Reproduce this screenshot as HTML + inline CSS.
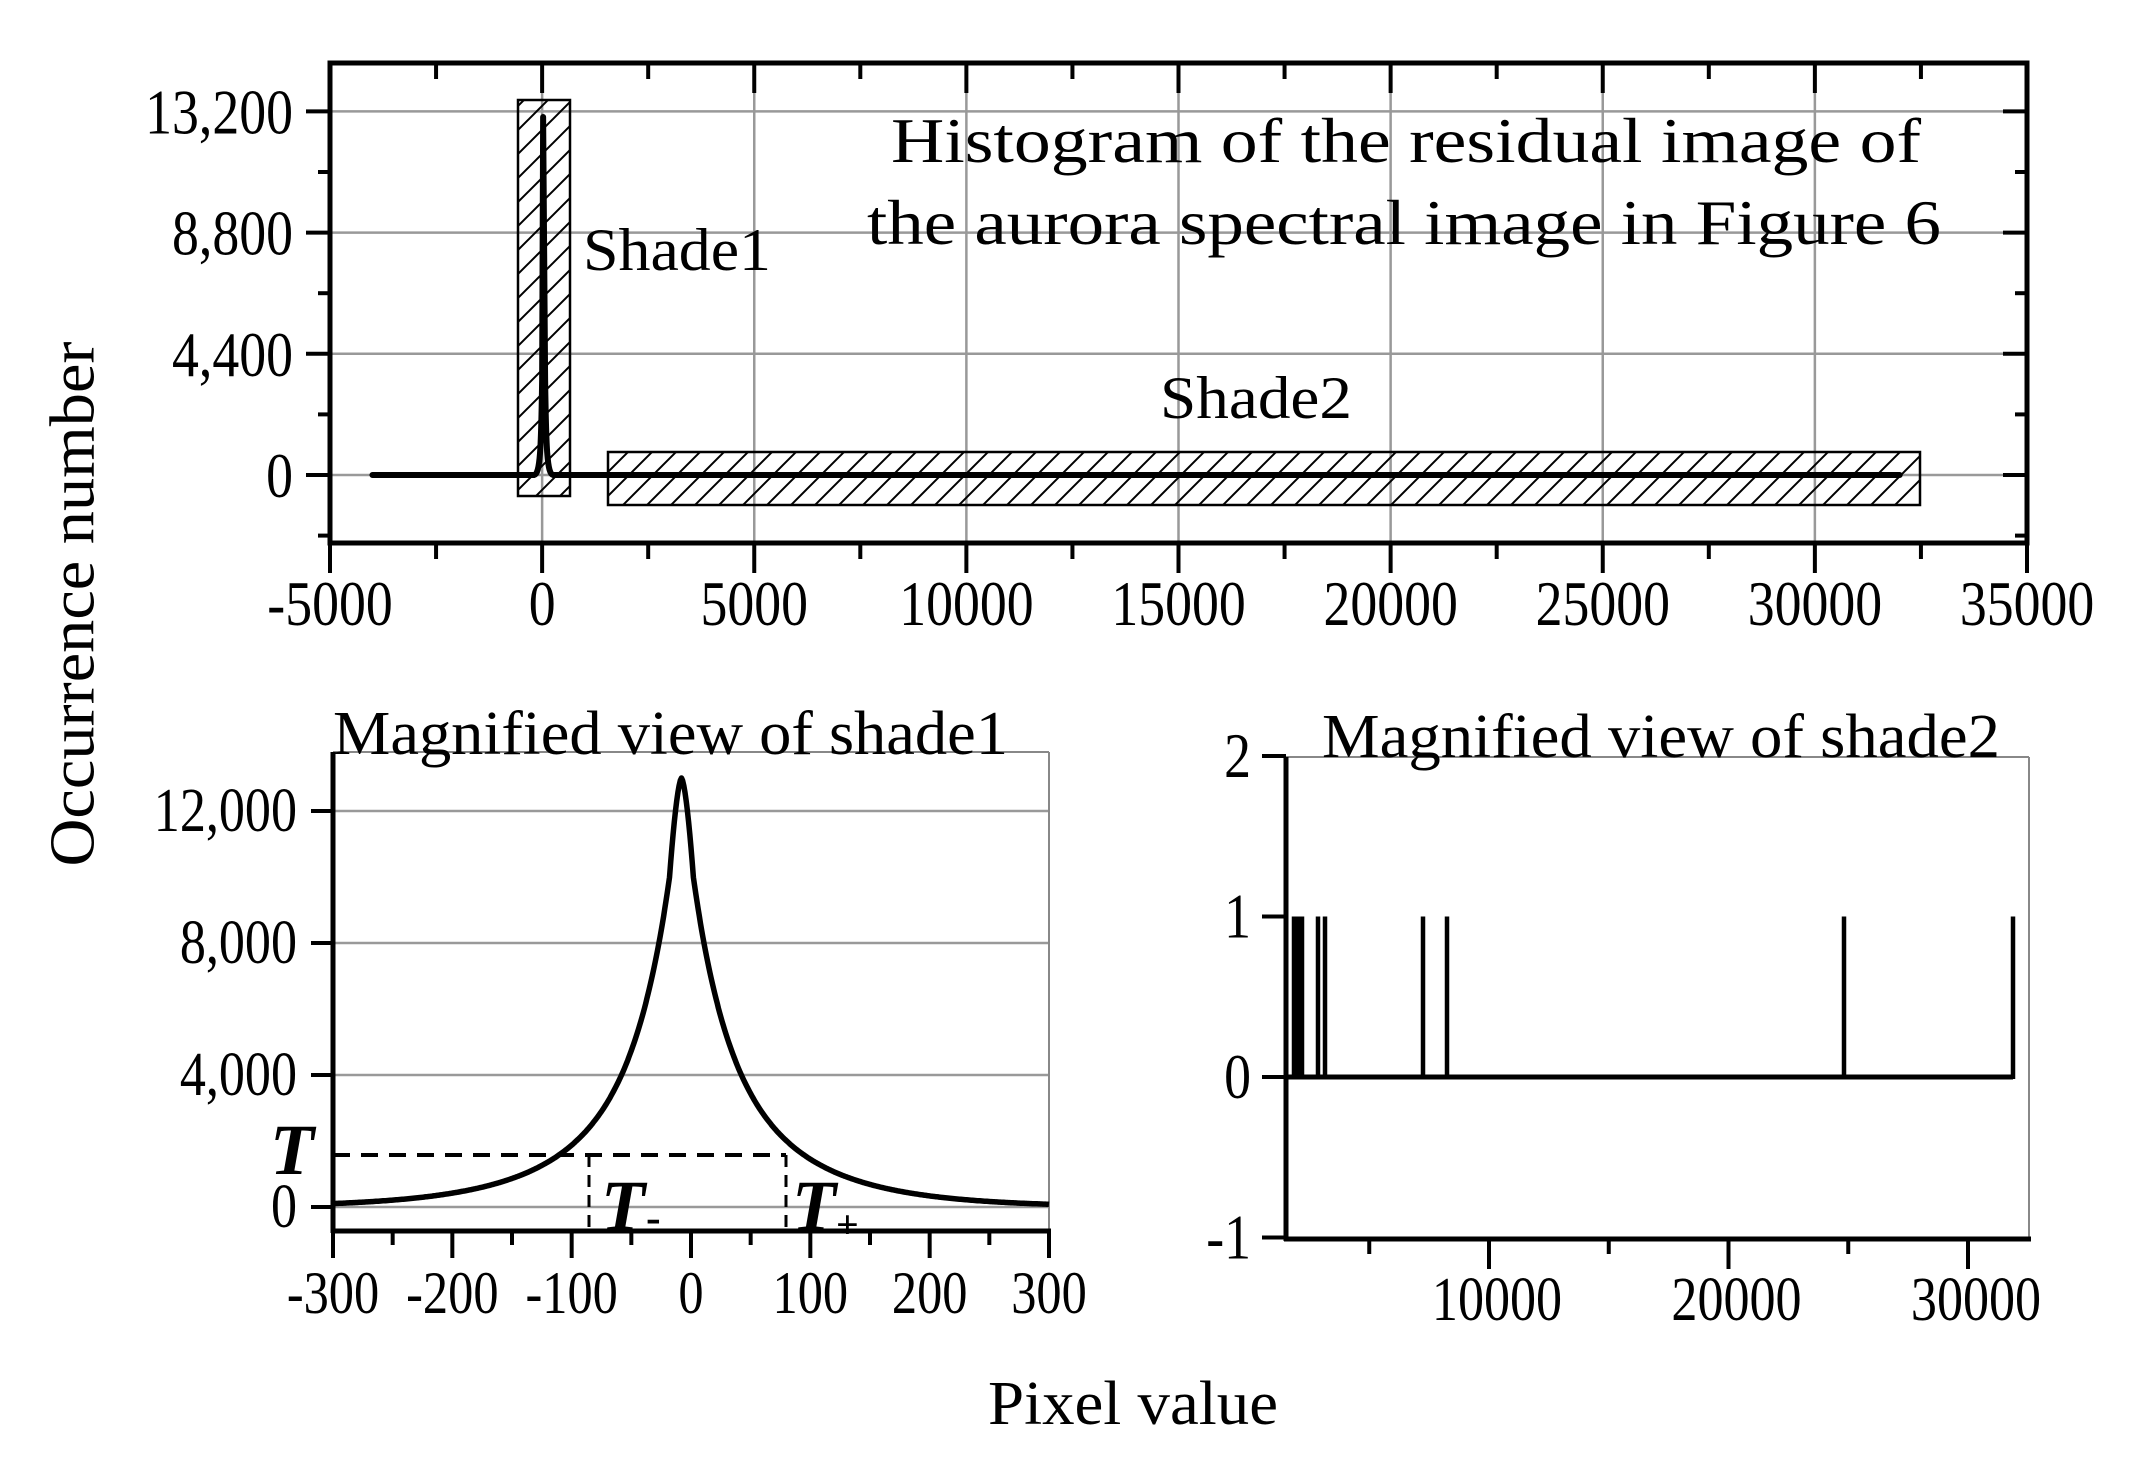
<!DOCTYPE html>
<html><head><meta charset="utf-8"><style>
html,body{margin:0;padding:0;background:#fff;}
svg{display:block;}
text{font-family:"Liberation Serif",serif;fill:#000;}
</style></head><body>
<svg id="s" width="2129" height="1463" viewBox="0 0 2129 1463" xmlns="http://www.w3.org/2000/svg">
<defs>
<pattern id="h" width="24" height="24" patternUnits="userSpaceOnUse">
<line x1="-2" y1="26" x2="26" y2="-2" stroke="#000" stroke-width="2"/>
<line x1="-14" y1="14" x2="14" y2="-14" stroke="#000" stroke-width="2"/>
<line x1="10" y1="38" x2="38" y2="10" stroke="#000" stroke-width="2"/>
</pattern>
</defs>
<g id="top"></g>
<g id="bl"></g>
<g id="br"></g>
<text x="79" y="604" font-size="64" text-anchor="middle" transform="rotate(-90 79 604)" dominant-baseline="middle" textLength="525" lengthAdjust="spacingAndGlyphs">Occurrence number</text>
<text x="1133" y="1424" font-size="62" text-anchor="middle" textLength="290" lengthAdjust="spacingAndGlyphs">Pixel value</text>
</svg>
<script>
const NS="http://www.w3.org/2000/svg";
function el(g,tag,attrs,txt){const e=document.createElementNS(NS,tag);for(const k in attrs)e.setAttribute(k,attrs[k]);if(txt!==undefined)e.textContent=txt;g.appendChild(e);return e;}
function tx(g,x,y,size,anchor,str,sx,extra){const a={x:0,y:0,'font-size':size,'text-anchor':anchor,transform:`translate(${x},${y}) scale(${sx},1)`};if(extra)Object.assign(a,extra);return el(g,'text',a,str);}
// ---------- TOP ----------
(function(){
const g=document.getElementById('top');
const L=330,R=2027,T=63,B=543;
const X=v=>L+(v+5000)*(R-L)/40000, Y=c=>475-c*121.2/4400;
for(let v=0;v<=30000;v+=5000) el(g,'line',{x1:X(v),x2:X(v),y1:T,y2:B,stroke:'#999','stroke-width':2.5});
for(const c of [0,4400,8800,13200]) el(g,'line',{x1:L,x2:R,y1:Y(c),y2:Y(c),stroke:'#999','stroke-width':2.5});
el(g,'rect',{x:518,y:100,width:52,height:396,fill:'url(#h)',stroke:'#000','stroke-width':2.5});
el(g,'rect',{x:608,y:452,width:1312,height:53,fill:'url(#h)',stroke:'#000','stroke-width':2.5});
const x0=X(0);
el(g,'path',{d:`M${X(-4000)},475 L${x0-8},475 C${x0-2},474 ${x0-1},450 ${x0},380 L${x0+1},117 L${x0+3},380 C${x0+4},450 ${x0+5},474 ${x0+11},475 L${X(32000)},475`,fill:'none',stroke:'#000','stroke-width':6,'stroke-linecap':'round','stroke-linejoin':'round'});
el(g,'rect',{x:L,y:T,width:R-L,height:B-T,fill:'none',stroke:'#000','stroke-width':5});
for(let v=-5000;v<=35000;v+=2500){const maj=v%5000===0;const x=X(v);
 el(g,'line',{x1:x,x2:x,y1:B,y2:B+(maj?30:16),stroke:'#000','stroke-width':4});
 el(g,'line',{x1:x,x2:x,y1:T,y2:T+(maj?30:16),stroke:'#000','stroke-width':4});
 if(maj) tx(g,x,625,64,'middle',String(v),0.84);}
for(let c=-2200;c<=13200;c+=2200){const maj=c%4400===0;const y=Y(c);
 el(g,'line',{x1:L-(maj?24:12),x2:L,y1:y,y2:y,stroke:'#000','stroke-width':4});
 el(g,'line',{x1:R-(maj?24:12),x2:R,y1:y,y2:y,stroke:'#000','stroke-width':4});
 if(maj) tx(g,293,y+22,64,'end',c.toLocaleString('en-US'),0.84);}
el(g,'text',{x:583,y:270,'font-size':60,textLength:188,lengthAdjust:'spacingAndGlyphs'},'Shade1');
el(g,'text',{x:1160,y:418,'font-size':60,textLength:192,lengthAdjust:'spacingAndGlyphs'},'Shade2');
el(g,'text',{x:1406,y:162,'font-size':64,'text-anchor':'middle',textLength:1030,lengthAdjust:'spacingAndGlyphs'},'Histogram of the residual image of');
el(g,'text',{x:1404,y:244,'font-size':64,'text-anchor':'middle',textLength:1074,lengthAdjust:'spacingAndGlyphs'},'the aurora spectral image in Figure 6');
})();
// ---------- BOTTOM LEFT ----------
(function(){
const g=document.getElementById('bl');
const L=333,R=1049,T=752,B=1231;
const X=v=>691+v*(R-L)/600, Y=c=>1207-c*132/4000;
for(const c of [0,4000,8000,12000]) el(g,'line',{x1:L,x2:R,y1:Y(c),y2:Y(c),stroke:'#999','stroke-width':2.5});
el(g,'line',{x1:L,x2:R,y1:T,y2:T,stroke:'#888','stroke-width':2});
el(g,'line',{x1:R,x2:R,y1:T,y2:B,stroke:'#888','stroke-width':2});
const F=dd=>7000*Math.exp(-dd/26)+6000*Math.exp(-dd/72);
const f10=F(10);
let d='';
for(let v=-300;v<=300;v+=1){const dd=Math.abs(v+8);let f=F(dd);
 if(dd<10) f=13000-(13000-f10)*Math.pow(dd/10,1.6);
 d+=(v===-300?'M':'L')+X(v).toFixed(1)+','+Y(f).toFixed(1)+' ';}
el(g,'path',{d:d,fill:'none',stroke:'#000','stroke-width':5.5,'stroke-linejoin':'round'});
el(g,'line',{x1:L,x2:786,y1:1155,y2:1155,stroke:'#000','stroke-width':4,'stroke-dasharray':'17,11'});
el(g,'line',{x1:589,x2:589,y1:1155,y2:B,stroke:'#000','stroke-width':3,'stroke-dasharray':'12,8'});
el(g,'line',{x1:786,x2:786,y1:1155,y2:B,stroke:'#000','stroke-width':3,'stroke-dasharray':'12,8'});
el(g,'line',{x1:L,x2:L,y1:T,y2:B+2,stroke:'#000','stroke-width':5});
el(g,'line',{x1:L-2,x2:R+2,y1:B,y2:B,stroke:'#000','stroke-width':5});
for(let v=-300;v<=300;v+=50){const maj=v%100===0;const x=X(v);
 el(g,'line',{x1:x,x2:x,y1:B,y2:B+(maj?27:14),stroke:'#000','stroke-width':4});
 if(maj) tx(g,x,1313,60,'middle',String(v),0.84);}
for(const c of [0,4000,8000,12000]){const y=Y(c);
 el(g,'line',{x1:L-22,x2:L,y1:y,y2:y,stroke:'#000','stroke-width':4});
 tx(g,297,y+20,62,'end',c.toLocaleString('en-US'),0.84);}
el(g,'text',{x:270,y:1174,'font-size':72,'font-weight':'bold','font-style':'italic'},'T');
el(g,'text',{x:601,y:1230,'font-size':72,'font-weight':'bold','font-style':'italic'},'T');
el(g,'text',{x:646,y:1232,'font-size':44,'font-weight':'bold'},'-');
el(g,'text',{x:792,y:1230,'font-size':72,'font-weight':'bold','font-style':'italic'},'T');
el(g,'text',{x:836,y:1238,'font-size':40,'font-weight':'bold'},'+');
el(g,'text',{x:333,y:754,'font-size':62,textLength:675,lengthAdjust:'spacingAndGlyphs'},'Magnified view of shade1');
})();
// ---------- BOTTOM RIGHT ----------
(function(){
const g=document.getElementById('br');
const L=1286,R=2029,T=757,B=1239;
const X=v=>1489+(v-10000)*239.5/10000, Y=c=>1077-c*160.5;
el(g,'line',{x1:L,x2:R,y1:T,y2:T,stroke:'#888','stroke-width':2});
el(g,'line',{x1:R,x2:R,y1:T,y2:B,stroke:'#888','stroke-width':2});
el(g,'line',{x1:L,x2:2013,y1:Y(0),y2:Y(0),stroke:'#000','stroke-width':5});
for(const x of [1294,1298,1302,1318,1325,1423,1447,1844,2013]) el(g,'line',{x1:x,x2:x,y1:Y(0)+2,y2:Y(1),stroke:'#000','stroke-width':4.5});
el(g,'line',{x1:L,x2:L,y1:T,y2:B+2,stroke:'#000','stroke-width':5});
el(g,'line',{x1:L-2,x2:R+2,y1:B,y2:B,stroke:'#000','stroke-width':5});
for(let v=5000;v<=30000;v+=5000){const maj=v%10000===0;const x=X(v);
 el(g,'line',{x1:x,x2:x,y1:B,y2:B+(maj?30:15),stroke:'#000','stroke-width':4});
 if(maj) tx(g,x+8,1320,62,'middle',String(v),0.84);}
for(const c of [-1,0,1,2]){const y=Y(c);
 el(g,'line',{x1:L-24,x2:L,y1:y,y2:y,stroke:'#000','stroke-width':4});
 tx(g,1251,y+21,64,'end',String(c),0.84);}
el(g,'text',{x:1322,y:757,'font-size':62,textLength:678,lengthAdjust:'spacingAndGlyphs'},'Magnified view of shade2');
})();
</script>
</body></html>
